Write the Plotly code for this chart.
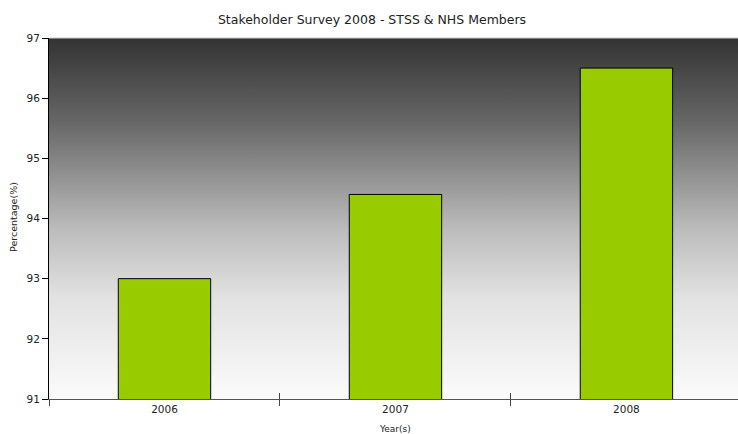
import base64
import plotly.graph_objects as go

years = ["2006", "2007", "2008"]
percentages = [93.0, 94.4, 96.5]
y_ticks = [91, 92, 93, 94, 95, 96, 97]

svg = (
    '<svg xmlns="http://www.w3.org/2000/svg" width="100" height="100" preserveAspectRatio="none">'
    '<defs><linearGradient id="g" x1="0" y1="0" x2="0" y2="1">'
    '<stop offset="0" stop-color="#333333"/>'
    '<stop offset="0.23" stop-color="#666666"/>'
    '<stop offset="0.53" stop-color="#bcbcbc"/>'
    '<stop offset="0.72" stop-color="#e2e2e2"/>'
    '<stop offset="1" stop-color="#fbfbfb"/>'
    '</linearGradient></defs>'
    '<rect x="0" y="0" width="100" height="100" fill="url(#g)"/></svg>'
)
uri = "data:image/svg+xml;base64," + base64.b64encode(svg.encode()).decode()

font = "DejaVu Sans"
PW, PH = 689, 361

fig = go.Figure()
fig.add_trace(go.Bar(
    x=years, y=percentages, width=0.4,
    marker=dict(color="#99cc00", line=dict(color="#000000", width=1)),
    hoverinfo="x+y",
))

fig.update_layout(
    width=738, height=434,
    margin=dict(l=49, r=0, t=38, b=35),
    paper_bgcolor="white",
    plot_bgcolor="rgba(0,0,0,0)",
    showlegend=False,
    title=dict(text="Stakeholder Survey 2008 - STSS & NHS Members",
               x=372 / 738, xref="container", xanchor="center",
               y=1 - 20 / 434, yref="container", yanchor="middle",
               font=dict(family=font, size=12.5, color="#222222")),
    font=dict(family=font, size=10, color="#222222"),
    images=[dict(source=uri, xref="paper", yref="paper", x=0, y=1,
                 sizex=1, sizey=1, xanchor="left", yanchor="top",
                 sizing="stretch", layer="below")],
    xaxis=dict(range=[-0.5, 2.483], tickson="boundaries", ticks="outside",
               ticklen=6, tickcolor="#444444", showline=True, linecolor="#555555",
               linewidth=1, showgrid=False, zeroline=False,
               tickfont=dict(size=10.5, color="#222222")),
    xaxis2=dict(overlaying="x", matches="x", type="category",
                tickson="boundaries", ticks="inside", ticklen=6,
                tickcolor="#444444", showticklabels=False, showline=False,
                showgrid=False, zeroline=False, side="bottom",
                anchor="y"),
    yaxis=dict(range=[91, 97], tickvals=y_ticks, ticks="outside", ticklen=6,
               tickcolor="#000000", showline=True, linecolor="#000000",
               linewidth=1, showgrid=False, zeroline=False,
               tickfont=dict(size=10.5, color="#222222")),
    shapes=[dict(type="line", xref="paper", yref="paper", x0=0, x1=1,
                 y0=1, y1=1, line=dict(color="#cccccc", width=1))],
    annotations=[
        dict(text="Percentage(%)", textangle=-90, x=-36 / PW, xref="paper",
             xanchor="center", y=(399 - 217) / PH, yref="paper",
             yanchor="middle", showarrow=False,
             font=dict(family=font, size=9.5, color="#222222")),
        dict(text="Year(s)", x=(395 - 49) / PW, xref="paper", xanchor="center",
             y=(399 - 429) / PH, yref="paper", yanchor="middle",
             showarrow=False,
             font=dict(family=font, size=9, color="#222222")),
    ],
)
fig.add_trace(go.Bar(x=years, y=[None, None, None], xaxis="x2",
                     hoverinfo="skip", showlegend=False))

fig.write_html("out.html",
               config={"displayModeBar": False},
               post_script="document.body.style.margin='0';"
                           "document.body.style.padding='0';")
